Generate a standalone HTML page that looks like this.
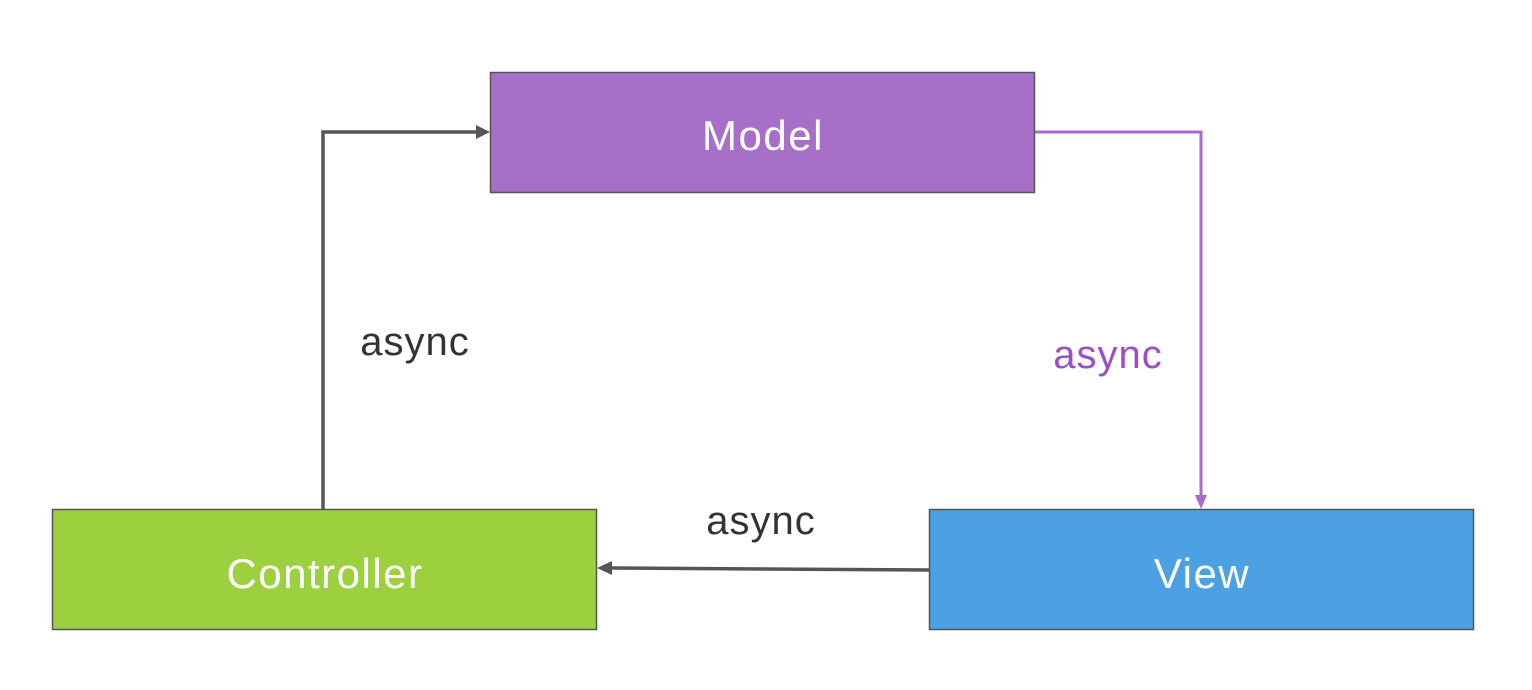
<!DOCTYPE html>
<html><head><style>html,body{margin:0;padding:0;background:#fff}svg{display:block}</style></head>
<body>
<svg width="1532" height="690" viewBox="0 0 1532 690" xmlns="http://www.w3.org/2000/svg" font-family="Liberation Sans, sans-serif">
<rect x="0" y="0" width="1532" height="690" fill="#fff"/>
<rect x="490.5" y="72.5" width="544" height="120" fill="#a76fc7" stroke="#555" stroke-width="1.5"/>
<rect x="52.5" y="509.5" width="544" height="120" fill="#9dd03f" stroke="#555" stroke-width="1.5"/>
<rect x="929.5" y="509.5" width="544" height="120" fill="#4ba1e1" stroke="#555" stroke-width="1.5"/>
<text x="763" y="150" font-size="42" letter-spacing="1.5" fill="#fff" text-anchor="middle">Model</text>
<text x="325" y="588" font-size="42" letter-spacing="1.5" fill="#fff" text-anchor="middle">Controller</text>
<text x="1202" y="588" font-size="42" letter-spacing="1.5" fill="#fff" text-anchor="middle">View</text>
<polyline points="323,509 323,132 478,132" fill="none" stroke="#555" stroke-width="3.5"/>
<polygon points="490,132 476,125 476,139" fill="#555"/>
<polyline points="1035,132 1201,132 1201,497" fill="none" stroke="#a969cf" stroke-width="3"/>
<polygon points="1201,509 1195,495 1207,495" fill="#a969cf"/>
<line x1="929" y1="570" x2="610" y2="568" stroke="#555" stroke-width="3.5"/>
<polygon points="597,568 612,561 612,575" fill="#555"/>
<text x="415" y="355" font-size="40" letter-spacing="1" fill="#333" text-anchor="middle">async</text>
<text x="1108" y="368" font-size="40" letter-spacing="1" fill="#9b4fc6" text-anchor="middle">async</text>
<text x="761" y="534" font-size="40" letter-spacing="1" fill="#333" text-anchor="middle">async</text>
</svg>
</body></html>
